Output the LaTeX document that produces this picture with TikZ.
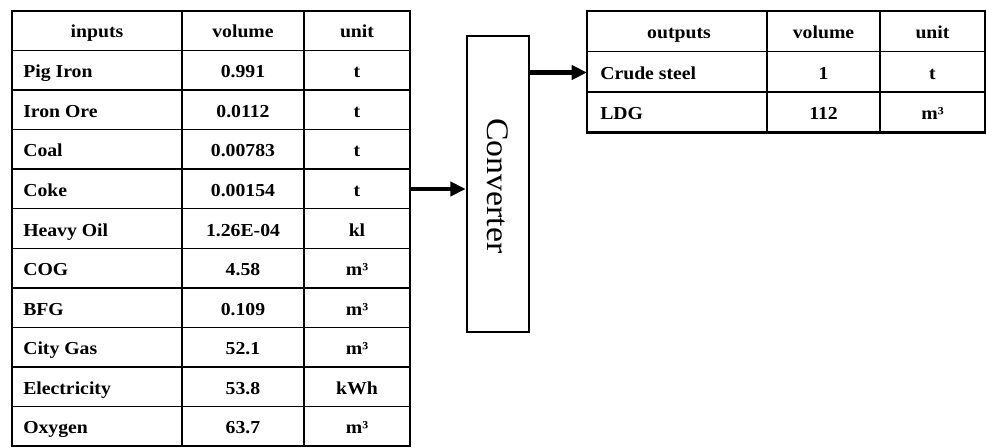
\documentclass[tikz,border=0pt]{standalone}
\usepackage{fontspec}
\setmainfont{Liberation Serif}[FakeStretch=1.08]
\usetikzlibrary{arrows.meta}
\begin{document}
\begin{tikzpicture}[x=0.75pt,y=-0.75pt,
  cell/.style={font=\fontsize{13.7}{16}\selectfont\bfseries, inner sep=0pt},
  thingrid/.style={line width=1.1pt},
  thickborder/.style={line width=2.2pt},
  procbox/.style={draw, line width=1.5pt, inner sep=0pt, minimum width=46.9pt, minimum height=222pt},
  flow/.style={line width=3.5pt, -{Triangle[length=11.5pt,width=10.5pt]}}
]
\useasboundingbox (0,0) rectangle (987,448);

% ---------- left table ----------
\def\rh{39.55}
\foreach \i in {1,...,10} \draw[thingrid] (12,{11+\i*\rh}) -- (410,{11+\i*\rh});
\draw[thingrid] (182,11) -- (182,446) (304,11) -- (304,446);
\draw[thickborder] (12,11) rectangle (410,446);

\node[cell, anchor=base] (hin) at (97,{11+0.5*\rh+7}) {inputs};
\node[cell, anchor=base] (hvol) at (243,{11+0.5*\rh+7}) {volume};
\node[cell, anchor=base] (hunit) at (357,{11+0.5*\rh+7}) {unit};

\foreach \nm/\vl/\un [count=\i] in {Pig Iron/0.991/t, Iron Ore/0.0112/t, Coal/0.00783/t,
  Coke/0.00154/t, Heavy Oil/1.26E-04/kl, COG/4.58/m³, BFG/0.109/m³,
  City Gas/52.1/m³, Electricity/53.8/kWh, Oxygen/63.7/m³} {
  \node[cell, anchor=base west] (in\i) at (23,{11+(\i+0.5)*\rh+7.5}) {\nm};
  \node[cell, anchor=base] (iv\i) at (243,{11+(\i+0.5)*\rh+7.5}) {\vl};
  \node[cell, anchor=base] (iu\i) at (357,{11+(\i+0.5)*\rh+7.5}) {\un};
}

% ---------- converter ----------
\node[procbox] (conv) at (498,184) {};
\node[rotate=-90, inner sep=0pt, font=\fontsize{23.5}{28}\selectfont] (convtext) at ([yshift=-1.5pt]conv.center) {Converter};

% ---------- right table ----------
\def\rr{40.5}
\foreach \i in {1,2} \draw[thingrid] (587,{11+\i*\rr}) -- (985,{11+\i*\rr});
\draw[thingrid] (767,11) -- (767,{11+3*\rr}) (880,11) -- (880,{11+3*\rr});
\draw[thickborder] (587,11) rectangle (985,{11+3*\rr});

\node[cell, anchor=base] (hout) at (679,{11+0.5*\rr+7}) {outputs};
\node[cell, anchor=base] (hvol2) at (823.5,{11+0.5*\rr+7}) {volume};
\node[cell, anchor=base] (hunit2) at (932.5,{11+0.5*\rr+7}) {unit};

\node[cell, anchor=base west] (out1) at (600,{11+1.5*\rr+7.5}) {Crude steel};
\node[cell, anchor=base] (ov1) at (823.5,{11+1.5*\rr+7.5}) {1};
\node[cell, anchor=base] (ou1) at (932.5,{11+1.5*\rr+7.5}) {t};
\node[cell, anchor=base west] (out2) at (600,{11+2.5*\rr+7.5}) {LDG};
\node[cell, anchor=base] (ov2) at (823.5,{11+2.5*\rr+7.5}) {112};
\node[cell, anchor=base] (ou2) at (932.5,{11+2.5*\rr+7.5}) {m³};

% ---------- connectors ----------
\coordinate (ltedge) at (410,189);
\coordinate (rtedge) at (587,72.5);
\draw[flow] (ltedge) -- (ltedge -| conv.west);
\draw[flow] (rtedge -| conv.east) -- (rtedge);
\end{tikzpicture}
\end{document}
